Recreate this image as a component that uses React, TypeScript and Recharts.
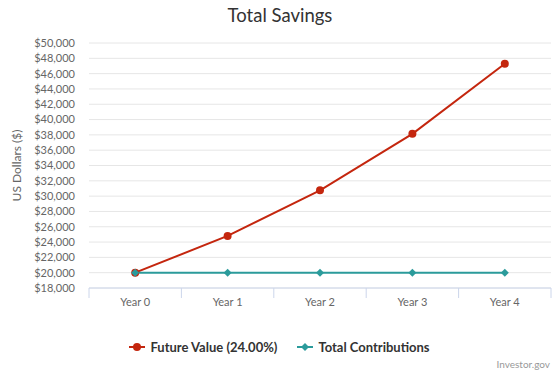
import React from 'react';
import { LineChart, Line, XAxis, YAxis, CartesianGrid, Legend } from 'recharts';

const years = ['Year 0', 'Year 1', 'Year 2', 'Year 3', 'Year 4'];
const futureValue = [20000, 24800, 30752, 38132, 47284];
const contributions = [20000, 20000, 20000, 20000, 20000];
const yTicks = [18000, 20000, 22000, 24000, 26000, 28000, 30000, 32000, 34000, 36000, 38000, 40000, 42000, 44000, 46000, 48000, 50000];

const RED = '#c4260e';
const TEAL = '#2b9b9b';
const FONT = 'Lato, "Open Sans", sans-serif';

const data = years.map((y, i) => ({ year: y, fv: futureValue[i], tc: contributions[i] }));

const fmt = (v: number) => '$' + v.toLocaleString('en-US');

const Diamond = (props: any) => {
    const { cx, cy } = props;
    if (cx == null || cy == null) return null;
    const r = 4;
    return <path d={`M${cx},${cy - r}L${cx + r},${cy}L${cx},${cy + r}L${cx - r},${cy}Z`} fill={TEAL} />;
};

// x tick: label at band centre, tick marks on the band edges like the original
const XTick = (props: any) => {
    const { x, y, payload, index } = props;
    const half = payload?.offset ?? 46;
    return (
        <g>
            <line x1={x - half} x2={x - half} y1={y - 8} y2={y + 2} stroke="#ccd6eb" />
            {index === years.length - 1 && <line x1={x + half} x2={x + half} y1={y - 8} y2={y + 2} stroke="#ccd6eb" />}
            <text x={x} y={y + 10} textAnchor="middle" fill="#666" fontSize={11} fontFamily={FONT}>{payload.value}</text>
        </g>
    );
};

const LegendContent = () => (
    <div style={{ display: 'flex', justifyContent: 'center', alignItems: 'center', gap: 20, paddingTop: 21, paddingLeft: 8, fontFamily: FONT, fontSize: 13, fontWeight: 'bold', color: '#333' }}>
        <div style={{ display: 'flex', alignItems: 'center', gap: 5 }}>
            <svg width={16} height={10}>
                <line x1={0} x2={16} y1={5} y2={5} stroke={RED} strokeWidth={2} />
                <circle cx={8} cy={5} r={4} fill={RED} />
            </svg>
            <span>Future Value (24.00%)</span>
        </div>
        <div style={{ display: 'flex', alignItems: 'center', gap: 5 }}>
            <svg width={16} height={10}>
                <line x1={0} x2={16} y1={5} y2={5} stroke={TEAL} strokeWidth={2} />
                <path d="M8,1L12,5L8,9L4,5Z" fill={TEAL} />
            </svg>
            <span>Total Contributions</span>
        </div>
    </div>
);

export default function App() {
    return (
        <div style={{ position: 'relative', width: 560, height: 373, background: '#fff' }}>
            <style>{'body{margin:0}'}</style>
            <div style={{ position: 'absolute', top: 4, left: 0, width: 560, textAlign: 'center', fontFamily: FONT, fontSize: 18.5, color: '#333' }}>
                Total Savings
            </div>
            <LineChart width={560} height={373} data={data} margin={{ top: 43, right: 9, left: 0, bottom: 12 }}>
                <CartesianGrid vertical={false} stroke="#e6e6e6" />
                <XAxis
                    dataKey="year"
                    scale="band"
                    height={30}
                    axisLine={{ stroke: '#ccd6eb' }}
                    tickLine={false}
                    tick={<XTick />}
                    interval={0}
                />
                <YAxis
                    width={89}
                    domain={[18000, 50000]}
                    ticks={yTicks}
                    interval={0}
                    tickFormatter={fmt}
                    axisLine={false}
                    tickLine={false}
                    tick={{ fill: '#666', fontSize: 11, fontFamily: FONT, dx: -6 }}
                    label={{ value: 'US Dollars ($)', angle: -90, position: 'insideLeft', offset: 17, style: { fill: '#666', fontSize: 12, fontFamily: FONT, textAnchor: 'middle' } }}
                />
                <Legend verticalAlign="bottom" height={43} content={<LegendContent />} />
                <Line type="linear" dataKey="fv" stroke={RED} strokeWidth={2} dot={{ r: 4, fill: RED, stroke: RED, strokeWidth: 0 }} isAnimationActive={false} />
                <Line type="linear" dataKey="tc" stroke={TEAL} strokeWidth={2} dot={<Diamond />} isAnimationActive={false} />
            </LineChart>
            <div style={{ position: 'absolute', right: 10, bottom: 3, fontFamily: FONT, fontSize: 10, color: '#999' }}>Investor.gov</div>
        </div>
    );
}
